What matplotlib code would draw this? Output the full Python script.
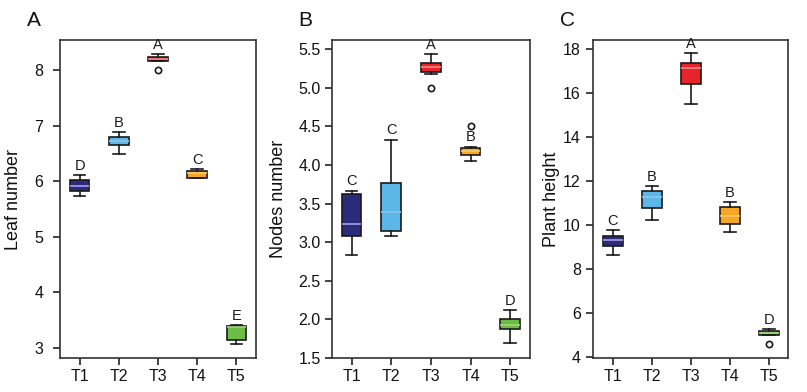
import numpy as np
import matplotlib.pyplot as plt
from matplotlib import font_manager

names = {f.name for f in font_manager.fontManager.ttflist}
fam = 'Liberation Sans Narrow' if 'Liberation Sans Narrow' in names else 'Liberation Sans'
plt.rcParams['font.family'] = [fam, 'DejaVu Sans']

groups = ["T1", "T2", "T3", "T4", "T5"]
colors = ["#2b2b7c", "#5cb6e8", "#e8232a", "#f6a724", "#6bbd45"]
med_colors = ["#a89ee8", "#8fc6e6", "#f08a8a", "#f8c870", "#9fd47e"]

# leaf number: whislo, q1, med, q3, whishi
leaf_lo = [5.74, 6.50, 8.16, 6.05, 3.07]
leaf_q1 = [5.83, 6.65, 8.16, 6.05, 3.13]
leaf_med = [5.92, 6.72, 8.20, 6.15, 3.38]
leaf_q3 = [6.02, 6.80, 8.24, 6.19, 3.39]
leaf_hi = [6.12, 6.88, 8.29, 6.22, 3.41]
leaf_out = [[], [], [8.0], [], []]
leaf_let = ["D", "B", "A", "C", "E"]

# nodes number
node_lo = [2.84, 3.08, 5.18, 4.05, 1.69]
node_q1 = [3.08, 3.14, 5.20, 4.13, 1.87]
node_med = [3.24, 3.39, 5.27, 4.18, 1.93]
node_q3 = [3.63, 3.77, 5.32, 4.22, 2.00]
node_hi = [3.67, 4.33, 5.44, 4.24, 2.12]
node_out = [[], [], [5.0], [4.5], []]
node_let = ["C", "C", "A", "B", "D"]

# plant height
ph_lo = [8.65, 10.24, 15.5, 9.67, 4.98]
ph_q1 = [9.06, 10.77, 16.42, 10.06, 4.98]
ph_med = [9.32, 11.27, 17.14, 10.4, 5.09]
ph_q3 = [9.52, 11.53, 17.39, 10.82, 5.17]
ph_hi = [9.79, 11.76, 17.82, 11.03, 5.27]
ph_out = [[], [], [], [], [4.59]]
ph_let = ["C", "B", "A", "B", "D"]

panels = [
    ("A", "Leaf number", leaf_lo, leaf_q1, leaf_med, leaf_q3, leaf_hi, leaf_out, leaf_let,
     (2.814, 8.546), [3, 4, 5, 6, 7, 8], ["3", "4", "5", "6", "7", "8"]),
    ("B", "Nodes number", node_lo, node_q1, node_med, node_q3, node_hi, node_out, node_let,
     (1.5, 5.62), [1.5, 2.0, 2.5, 3.0, 3.5, 4.0, 4.5, 5.0, 5.5],
     ["1.5", "2.0", "2.5", "3.0", "3.5", "4.0", "4.5", "5.0", "5.5"]),
    ("C", "Plant height", ph_lo, ph_q1, ph_med, ph_q3, ph_hi, ph_out, ph_let,
     (3.95, 18.42), [4, 6, 8, 10, 12, 14, 16, 18], ["4", "6", "8", "10", "12", "14", "16", "18"]),
]

W, H = 807, 392
lefts = [60, 331.7, 593.3]
rights = [256, 530, 788.3]
label_off = [38, 45, 33]
tick_pad = [7, 3, 4]
top, bottom = 40, 358

fig = plt.figure(figsize=(W / 100, H / 100), dpi=100)

for i, (tag, ylab, lo, q1, med, q3, hi, out, lets, ylim, yt, ytl) in enumerate(panels):
    wpx = rights[i] - lefts[i]
    ax = fig.add_axes([lefts[i] / W, (H - bottom) / H, wpx / W, (bottom - top) / H])
    stats = []
    for j in range(5):
        stats.append(dict(whislo=lo[j], q1=q1[j], med=med[j], q3=q3[j], whishi=hi[j],
                          fliers=out[j], label=groups[j]))
    bp = ax.bxp(stats, positions=range(1, 6), widths=0.5, patch_artist=True,
                boxprops=dict(linewidth=1.2, edgecolor="#1a1a1a"),
                whiskerprops=dict(linewidth=1.2, color="#1a1a1a"),
                capprops=dict(linewidth=1.2, color="#1a1a1a"),
                capwidths=0.3,
                flierprops=dict(marker="o", markersize=4.5, markerfacecolor="white",
                                markeredgecolor="#1a1a1a", markeredgewidth=1.2))
    for j, patch in enumerate(bp["boxes"]):
        patch.set_facecolor(colors[j])
        bp["medians"][j].set_color(med_colors[j])
        bp["medians"][j].set_linewidth(1.2)
    for j in range(5):
        ax.annotate(lets[j], (j + 1, hi[j]), xytext=(0, 1.5), textcoords="offset points",
                    ha="center", va="bottom", fontsize=10.5, color="#1a1a1a")
    ax.set_xlim(0.5, 5.5)
    ax.set_ylim(*ylim)
    ax.set_yticks(yt)
    ax.set_yticklabels(ytl)
    ax.set_xticks(range(1, 6))
    ax.set_xticklabels(groups)
    ax.tick_params(axis="both", labelsize=11.5, length=5, width=1.2, color="#222222",
                   labelcolor="#111111", direction="out")
    ax.tick_params(axis="x", pad=3)
    ax.tick_params(axis="y", pad=tick_pad[i])
    for s in ax.spines.values():
        s.set_color("#333333")
        s.set_linewidth(1.2)
    ax.set_ylabel(ylab, fontsize=13, color="#111111")
    ax.yaxis.set_label_coords(-label_off[i] / wpx, 0.5)
    fig.text((lefts[i] - 33) / W, 1 - 21 / H, tag, fontsize=15, color="#111111",
             ha="left", va="center")

fig.savefig("out.png", dpi=100)
